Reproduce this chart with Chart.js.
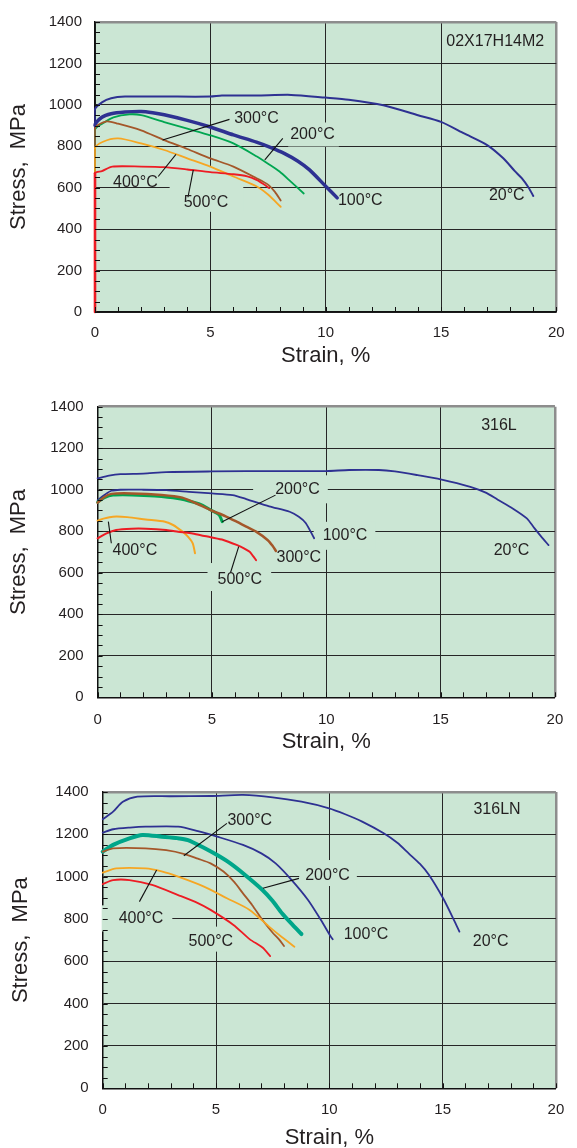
<!DOCTYPE html>
<html>
<head>
<meta charset="utf-8">
<script src="https://cdn.jsdelivr.net/npm/chart.js@4.4.1/dist/chart.umd.min.js"></script>
<style>
    html, body { margin: 0; padding: 0; background: #fff; }
    body { width: 577px; height: 1148px; position: relative; overflow: hidden; }
    canvas { position: absolute; left: 0; }
</style>
</head>
<body>
<canvas id="chart-a" width="577" height="380" style="top:0"></canvas>
<canvas id="chart-b" width="577" height="380" style="top:380px"></canvas>
<canvas id="chart-c" width="577" height="388" style="top:760px"></canvas>
<script>
// axes
var strainTicks = [0, 5, 10, 15, 20];
var stressTicks = [0, 200, 400, 600, 800, 1000, 1200, 1400];
var temperatures = ['20°C', '100°C', '200°C', '300°C', '400°C', '500°C'];

// 02X17H14M2  [strain %, stress MPa]
var a20 = [[0,0],[0,978],[0.3,1012],[0.7,1032],[1.3,1040],[3,1040],[5,1040],[5.5,1045],[7,1045],[8.5,1048],[10,1035],[11,1025],[12.5,998],[14,950],[15,918],[16,862],[17,806],[17.7,742],[18.2,680],[18.5,646],[18.8,600],[19.0,560]];
var a100 = [[0,0],[0,901],[0.3,940],[0.7,957],[1.3,965],[2,968],[2.5,962],[3,952],[4,925],[5,893],[6,855],[7,820],[7.6,795],[8.2,766],[8.8,728],[9.3,686],[10,607],[10.5,551]];
var a200 = [[0,0],[0,880],[0.4,915],[0.8,940],[1.5,954],[2,950],[3,917],[4,885],[5,853],[6,814],[7,752],[7.5,716],[8,678],[8.5,628],[9.05,572]];
var a300 = [[0,0],[0,885],[0.5,920],[1,909],[2,877],[3,830],[4,787],[5,742],[6,702],[7,646],[7.5,615],[7.8,580],[8.05,538]];
var a400 = [[0,0],[0,790],[0.35,822],[1,838],[2,814],[3,782],[4,742],[5,702],[6,654],[7,607],[7.5,567],[8.05,508]];
var a500 = [[0,0],[0,670],[0.3,680],[0.75,702],[2,702],[3,699],[4,688],[5,675],[6,665],[6.6,655],[7,638],[7.3,618],[7.55,598]];

// 316L
var b20 = [[0,1055],[0.5,1068],[1,1075],[2,1078],[3,1085],[5,1088],[8,1090],[10,1090],[11,1095],[12.3,1095],[13,1088],[14,1070],[15,1050],[16.3,1014],[17,985],[17.5,952],[18.15,910],[18.77,862],[19.1,815],[19.4,774],[19.72,733]];
var b100 = [[0,950],[0.3,975],[0.6,995],[1,1000],[2,1000],[3,998],[4,990],[5,982],[5.9,974],[6.5,955],[7.5,920],[8.4,894],[8.8,870],[9.1,840],[9.47,766]];
var b200 = [[0,940],[0.3,962],[0.67,974],[1.5,975],[2.5,970],[3.5,958],[4.2,940],[4.6,925],[4.95,902],[5.3,880],[5.4,860],[5.45,846]];
var b300 = [[0,938],[0.3,965],[0.6,980],[1.5,982],[2.8,975],[3.7,962],[4.4,930],[4.94,902],[5.6,872],[6.08,846],[6.5,822],[6.93,798],[7.43,758],[7.65,730],[7.8,705]];
var b400 = [[0,851],[0.3,862],[0.67,870],[1.3,868],[2.1,857],[2.95,846],[3.3,830],[3.52,814],[3.75,795],[3.95,774],[4.16,742],[4.26,694]];
var b500 = [[0,766],[0.39,790],[0.81,806],[1.5,812],[2.1,812],[3,806],[3.52,798],[4.3,786],[4.94,771],[5.5,758],[6.08,734],[6.4,718],[6.65,701],[6.8,680],[6.93,661]];

// 316LN
var c20 = [[0,1271],[0.46,1307],[0.89,1354],[1.53,1378],[3,1380],[4.76,1381],[6.19,1386],[7.5,1375],[8.77,1354],[9.99,1323],[10.7,1295],[11.45,1260],[12.4,1205],[13,1160],[13.5,1110],[14,1060],[14.4,1008],[15.02,898],[15.5,795],[15.74,740]];
var c100 = [[0,1208],[0.46,1224],[1.2,1232],[1.89,1236],[3.33,1236],[4.2,1215],[5.05,1189],[6.19,1150],[7,1110],[7.63,1063],[8.34,984],[9.06,890],[9.63,795],[10.06,717],[10.15,704]];
var c200 = [[0,1118],[0.46,1150],[1.18,1181],[1.75,1197],[2.61,1189],[3.3,1182],[3.76,1173],[4.4,1140],[5.05,1102],[5.6,1065],[6.19,1016],[7.05,937],[7.5,885],[7.91,827],[8.4,770],[8.77,729]];
var c300 = [[0,1118],[0.46,1134],[1.89,1134],[2.8,1125],[3.61,1107],[4.2,1085],[4.76,1063],[5.33,1024],[5.8,975],[6.19,921],[6.6,865],[7.05,795],[7.5,735],[7.77,705],[8.0,672]];
var c400 = [[0,1019],[0.6,1039],[1.89,1039],[2.6,1025],[3.33,1000],[4.47,953],[5.48,898],[6.48,843],[7.34,764],[7.9,715],[8.46,669]];
var c500 = [[0,965],[0.46,984],[1.18,984],[2.18,961],[3.33,913],[4.2,875],[4.76,843],[5.77,772],[6.48,705],[7.05,665],[7.39,625]];

var FONT = '"Liberation Sans", Arial, sans-serif';
var PLOT_BG = '#cbe6d4';
var INK = '#231f20';
var BLUE = '#2e3192', GREEN = '#00a651', TEAL = '#00a68a', BROWN = '#a4572a', ORANGE = '#f6a623', RED = '#ed1c24';

var panels = [
    {
        id: 'chart-a', name: '02X17H14M2', nameAt: [17.35, 1303],
        area: { left: 95, right: 565, top: 19, bottom: 312 },
        yTitleX: 19, xTitleY: 356, tickPadX: 12.3, tickPadY: 13,
        curves: [a20, a100, a200, a300, a400, a500],
        colors: [BLUE, BLUE, GREEN, BROWN, ORANGE, RED],
        widths: [2, 3.5, 1.8, 1.8, 1.8, 1.8],
        labels: [
            { t: '20°C', x: 17.85, y: 564 },
            { t: '100°C', x: 11.5, y: 538 },
            { t: '200°C', x: 9.43, y: 857, pad: [2, 4, 3, 3], from: [8.14, 838], to: [7.36, 734] },
            { t: '300°C', x: 7.0, y: 933, from: [5.83, 930], to: [2.93, 830] },
            { t: '400°C', x: 1.75, y: 627, from: [2.74, 654], to: [3.51, 761] },
            { t: '500°C', x: 4.81, y: 527, pad: [14, 15, 27, 0], from: [4.03, 554], to: [4.26, 686] }
        ]
    },
    {
        id: 'chart-b', name: '316L', nameAt: [17.55, 1311],
        area: { left: 97.6, right: 566, top: 26.7, bottom: 317.3 },
        yTitleX: 19, xTitleY: 361.7, tickPadX: 13.7, tickPadY: 14,
        curves: [b20, b100, b200, b300, b400, b500],
        colors: [BLUE, BLUE, GREEN, BROWN, ORANGE, RED],
        widths: [1.8, 1.8, 3, 2.5, 2, 2],
        labels: [
            { t: '20°C', x: 18.1, y: 709 },
            { t: '100°C', x: 10.82, y: 778, pad: [9, 8, 5, 5] },
            { t: '200°C', x: 8.74, y: 1002, pad: [22, 8, 5, 5], from: [7.78, 974], to: [5.45, 846] },
            { t: '300°C', x: 8.8, y: 674 },
            { t: '400°C', x: 1.63, y: 709, from: [0.6, 742], to: [0.47, 846] },
            { t: '500°C', x: 6.22, y: 565, pad: [10, 9, 8, 2], from: [5.81, 600], to: [6.17, 726] }
        ]
    },
    {
        id: 'chart-c', name: '316LN', nameAt: [17.4, 1315],
        area: { left: 102.7, right: 567, top: 32, bottom: 328.3 },
        yTitleX: 21, xTitleY: 378.3, tickPadX: 12.7, tickPadY: 14,
        curves: [c20, c100, c200, c300, c400, c500],
        colors: [BLUE, BLUE, TEAL, BROWN, ORANGE, RED],
        widths: [1.8, 1.8, 4, 1.8, 1.8, 1.8],
        labels: [
            { t: '20°C', x: 17.12, y: 693 },
            { t: '100°C', x: 11.62, y: 728 },
            { t: '200°C', x: 9.92, y: 1003, pad: [6, 7, 7, 1], from: [8.66, 992], to: [7.07, 945] },
            { t: '300°C', x: 6.49, y: 1265, from: [5.48, 1252], to: [3.58, 1099] },
            { t: '400°C', x: 1.69, y: 803, pad: [17, 9, 4, 4], from: [1.62, 882], to: [2.38, 1031] },
            { t: '500°C', x: 4.77, y: 693, pad: [2, 2, 6, 1] }
        ]
    }
];

function notesPlugin(panel) {
    return {
        id: 'notes',
        beforeDraw: function (chart) {
            var a = chart.chartArea, ctx = chart.ctx;
            ctx.save();
            ctx.fillStyle = PLOT_BG;
            ctx.fillRect(a.left, a.top, a.right - a.left, a.bottom - a.top);
            ctx.restore();
        },
        beforeDatasetsDraw: function (chart) {
            // label boxes hide the grid but stay under the curves
            var ctx = chart.ctx, sx = chart.scales.x, sy = chart.scales.y;
            ctx.save();
            ctx.font = '16px ' + FONT;
            ctx.fillStyle = PLOT_BG;
            panel.labels.forEach(function (l) {
                if (!l.pad) return;
                var cx = sx.getPixelForValue(l.x), cy = sy.getPixelForValue(l.y);
                var w = ctx.measureText(l.t).width;
                ctx.fillRect(cx - w / 2 - l.pad[0], cy - 9 - l.pad[2], w + l.pad[0] + l.pad[1], 18 + l.pad[2] + l.pad[3]);
            });
            ctx.restore();
        },
        afterDraw: function (chart) {
            var ctx = chart.ctx, sx = chart.scales.x, sy = chart.scales.y, a = chart.chartArea;
            ctx.save();
            // minor ticks pointing inwards
            ctx.strokeStyle = '#111';
            ctx.lineWidth = 1;
            ctx.beginPath();
            for (var v = stressTicks[0]; v <= stressTicks[stressTicks.length - 1]; v += 50) {
                var py = Math.round(sy.getPixelForValue(v)) + 0.5;
                ctx.moveTo(a.left, py);
                ctx.lineTo(a.left + 5, py);
            }
            for (var s = strainTicks[0]; s <= strainTicks[strainTicks.length - 1]; s += 1) {
                var px = Math.round(sx.getPixelForValue(s)) + 0.5;
                ctx.moveTo(px, a.bottom);
                ctx.lineTo(px, a.bottom - 5);
            }
            ctx.stroke();

            // leader lines
            ctx.strokeStyle = '#111';
            ctx.lineWidth = 1.1;
            panel.labels.forEach(function (l) {
                if (!l.from) return;
                ctx.beginPath();
                ctx.moveTo(sx.getPixelForValue(l.from[0]), sy.getPixelForValue(l.from[1]));
                ctx.lineTo(sx.getPixelForValue(l.to[0]), sy.getPixelForValue(l.to[1]));
                ctx.stroke();
            });

            ctx.font = '16px ' + FONT;
            ctx.fillStyle = INK;
            ctx.textAlign = 'center';
            ctx.textBaseline = 'middle';
            panel.labels.forEach(function (l) {
                ctx.fillText(l.t, sx.getPixelForValue(l.x), sy.getPixelForValue(l.y));
            });
            ctx.fillText(panel.name, sx.getPixelForValue(panel.nameAt[0]), sy.getPixelForValue(panel.nameAt[1]));
            ctx.restore();
        }
    };
}

function makeChart(panel) {
    var canvas = document.getElementById(panel.id);
    var H = canvas.height;
    var area = panel.area;
    var xMax = strainTicks[strainTicks.length - 1];
    var yMax = stressTicks[stressTicks.length - 1];
    var hottest = panel.curves.length - 1;

    // first dataset is painted last, so hot curves go first
    var datasets = [];
    for (var i = hottest; i >= 0; i--) {
        (function (idx) {
            var w = panel.widths[idx];
            // elastic part at strain 0: the 500°C one sits on top, a bit wider
            var elasticW = idx === hottest ? 2.6 : 1.5;
            datasets.push({
                label: temperatures[idx],
                data: panel.curves[idx].map(function (p) { return { x: p[0], y: p[1] }; }),
                showLine: true,
                clip: 4,
                borderColor: panel.colors[idx],
                borderWidth: w,
                pointRadius: 0,
                tension: 0.25,
                borderJoinStyle: 'round',
                borderCapStyle: 'round',
                segment: {
                    borderWidth: function (c) {
                        return c.p0.parsed.x === 0 && c.p1.parsed.x === 0 ? elasticW : w;
                    }
                }
            });
        })(i);
    }

    return new Chart(canvas, {
        type: 'scatter',
        data: { datasets: datasets },
        options: {
            responsive: false,
            animation: false,
            events: [],
            layout: { padding: { left: 0, right: canvas.width - area.right, top: area.top, bottom: 0 } },
            plugins: { legend: { display: false }, tooltip: { enabled: false } },
            scales: {
                x: {
                    type: 'linear',
                    min: strainTicks[0],
                    max: xMax,
                    afterBuildTicks: function (s) { s.ticks = strainTicks.map(function (v) { return { value: v }; }); },
                    afterFit: function (s) { s.height = H - area.bottom; },
                    ticks: {
                        color: INK, font: { family: FONT, size: 15 }, padding: panel.tickPadX, maxRotation: 0,
                        callback: function (v) { return String(v); }
                    },
                    grid: {
                        drawTicks: false,
                        color: function (c) { return c.tick && c.tick.value === xMax ? '#8d8d8d' : '#262626'; },
                        lineWidth: function (c) { return c.tick && c.tick.value === xMax ? 2.5 : 1; }
                    },
                    border: { color: '#111', width: 1.5 },
                    title: {
                        display: true, text: 'Strain, %', color: INK,
                        font: { family: FONT, size: 22 },
                        padding: { top: 0, bottom: H - panel.xTitleY - 13.2 }
                    }
                },
                y: {
                    type: 'linear',
                    min: stressTicks[0],
                    max: yMax,
                    afterBuildTicks: function (s) { s.ticks = stressTicks.map(function (v) { return { value: v }; }); },
                    afterFit: function (s) { s.width = area.left; },
                    ticks: {
                        color: INK, font: { family: FONT, size: 15 }, padding: panel.tickPadY,
                        callback: function (v) { return String(v); }
                    },
                    grid: {
                        drawTicks: false,
                        color: function (c) { return c.tick && c.tick.value === yMax ? '#8d8d8d' : '#262626'; },
                        lineWidth: function (c) { return c.tick && c.tick.value === yMax ? 2.5 : 1; }
                    },
                    border: { color: '#111', width: 1.5 },
                    title: {
                        display: true, text: 'Stress,  MPa', color: INK,
                        font: { family: FONT, size: 22 },
                        padding: { top: panel.yTitleX - 13.2, bottom: 0 }
                    }
                }
            }
        },
        plugins: [notesPlugin(panel)]
    });
}

panels.forEach(makeChart);
</script>
</body>
</html>
